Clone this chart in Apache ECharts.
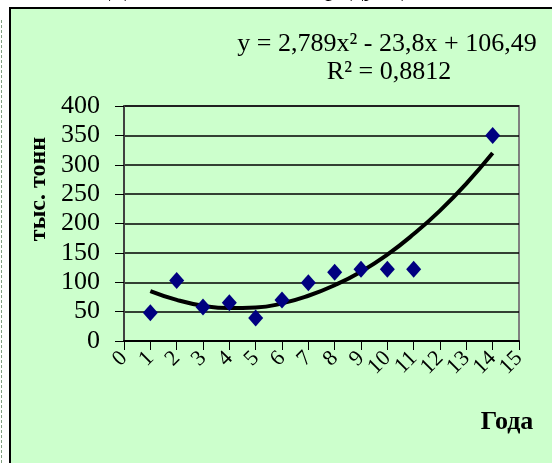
<!DOCTYPE html>
<html>
<head>
<meta charset="utf-8">
<script src="https://cdn.jsdelivr.net/npm/echarts@6/dist/echarts.min.js"></script>
<style>html,body{margin:0;padding:0;background:#fff;}#c{width:552px;height:463px;}</style>
</head>
<body>
<div id="c"></div>
<script>
var years = [1, 2, 3, 4, 5, 6, 7, 8, 9, 10, 11, 14];
var volumes = [48, 103, 58, 65, 39, 70, 99, 117, 122, 122, 122, 350];
var trendX = [1, 2, 3, 4, 5, 6, 7, 8, 9, 10, 11, 12, 13, 14];
var trendY = [85, 70, 60, 56, 57, 64, 77, 95, 118, 147, 182, 222, 268, 320];
var xTicks = ['0','1','2','3','4','5','6','7','8','9','10','11','12','13','14','15'];
var yTicks = ['0','50','100','150','200','250','300','350','400'];
var equation = 'y = 2,789x\u00B2 - 23,8x + 106,49';
var rSquared = 'R\u00B2 = 0,8812';
var titleText = 'Динамика объема продукции';
var yTitle = 'тыс. тонн';
var xTitle = 'Года';

var serif = 'Liberation Serif';
var chart = echarts.init(document.getElementById('c'), null, {renderer: 'canvas'});
var option = {
  backgroundColor: '#ffffff',
  animation: false,
  textStyle: {fontFamily: serif},
  graphic: [
    {type: 'line', shape: {x1: 1.5, y1: 20, x2: 1.5, y2: 463}, style: {stroke: '#80a080', lineWidth: 1, lineDash: [3, 2]}, z: -10},
    {type: 'rect', shape: {x: 10, y: 8, width: 560, height: 470}, style: {fill: '#ccffcc', stroke: '#000', lineWidth: 2}, z: -10},
    {type: 'text', x: 270, y: -11, style: {text: titleText, fontFamily: serif, fontSize: 26, fill: '#000', align: 'center', verticalAlign: 'middle'}, z: -20},
    {type: 'text', x: 387, y: 44, style: {text: equation, fontFamily: serif, fontSize: 26, fill: '#000', align: 'center', verticalAlign: 'middle'}},
    {type: 'text', x: 389, y: 72, style: {text: rSquared, fontFamily: serif, fontSize: 26, fill: '#000', align: 'center', verticalAlign: 'middle'}},
    {type: 'text', x: 39, y: 189, rotation: Math.PI / 2, style: {text: yTitle, fontFamily: serif, fontWeight: 'bold', fontSize: 24, fill: '#000', align: 'center', verticalAlign: 'middle'}},
    {type: 'text', x: 507, y: 422, style: {text: xTitle, fontFamily: serif, fontWeight: 'bold', fontSize: 26, fill: '#000', align: 'center', verticalAlign: 'middle'}}
  ],
  grid: {left: 124, top: 106, right: 33, bottom: 122, show: true, borderColor: '#808080', borderWidth: 2, backgroundColor: 'transparent'},
  xAxis: [
    {
      type: 'value', min: 0, max: 15, interval: 1,
      axisLine: {show: false},
      axisTick: {show: false},
      axisLabel: {show: false},
      splitLine: {show: false}
    },
    {
      type: 'category', position: 'bottom', boundaryGap: false, data: xTicks,
      axisLine: {show: true, lineStyle: {color: '#000', width: 2}},
      axisTick: {show: true, length: 9, interval: 0, alignWithLabel: true, lineStyle: {color: '#000', width: 1}},
      axisLabel: {interval: 0, rotate: 45, margin: 14, color: '#000', fontFamily: serif, fontSize: 22},
      splitLine: {show: false}
    }
  ],
  yAxis: {
    type: 'value', min: 0, max: 400, interval: 50,
    axisLine: {show: true, lineStyle: {color: '#404040', width: 2}},
    axisTick: {show: true, length: 9, lineStyle: {color: '#000', width: 1}},
    axisLabel: {margin: 24, color: '#000', fontFamily: serif, fontSize: 26, formatter: function (v) { return yTicks[v / 50]; }},
    splitLine: {show: true, lineStyle: {color: '#000', width: 1.5}}
  },
  series: [
    {type: 'line', xAxisIndex: 0, data: trendX.map(function (x, i) { return [x, trendY[i]]; }), smooth: true, showSymbol: false, symbol: 'none', lineStyle: {color: '#000', width: 4}, z: 3},
    {type: 'scatter', xAxisIndex: 0, data: years.map(function (x, i) { return [x, volumes[i]]; }), symbol: 'diamond', symbolSize: [15, 17], itemStyle: {color: '#000080', opacity: 1}, z: 4}
  ]
};
chart.setOption(option);
</script>
</body>
</html>
